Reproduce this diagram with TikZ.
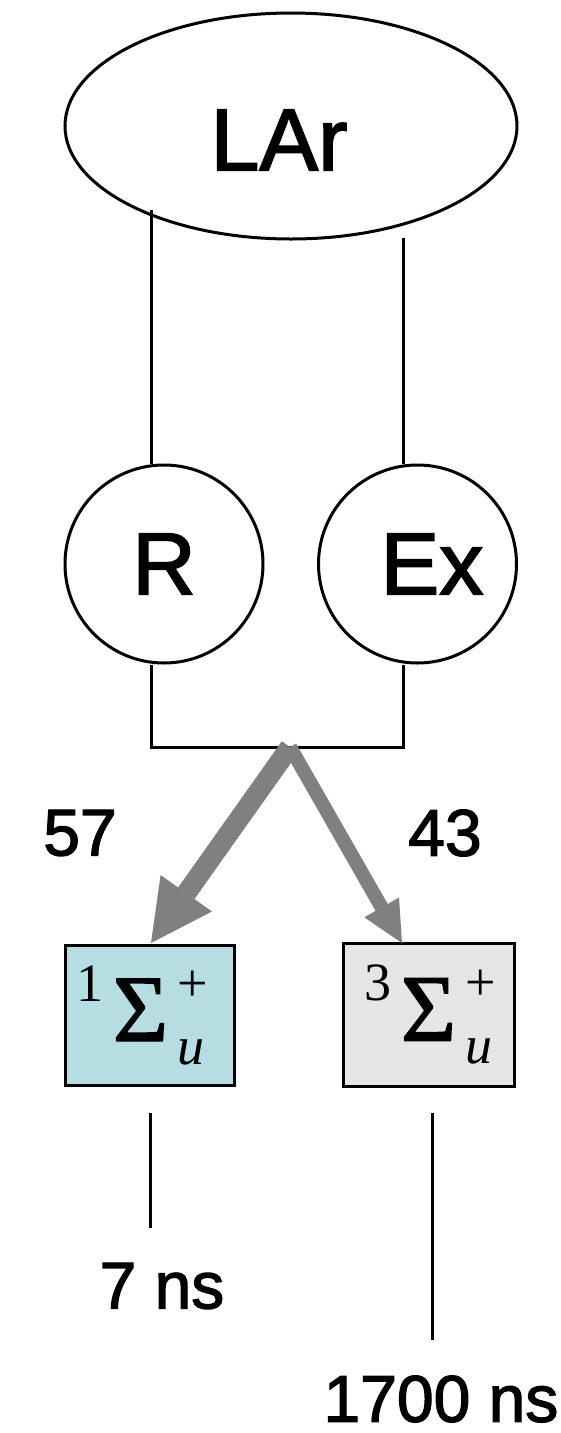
\documentclass[tikz,border=0pt]{standalone}
\usepackage{fontspec}
\setmainfont{Liberation Sans}[FakeBold=2]
\newfontfamily\tms{Liberation Serif}
\newfontfamily\tmsheavy{Liberation Serif}[FakeBold=1.5]
\usepackage{graphicx}
\usetikzlibrary{shapes.geometric,arrows.meta,calc,shadows}
\definecolor{arrowgray}{HTML}{808080}
\definecolor{singblue}{HTML}{B5DDE2}
\definecolor{tripgray}{HTML}{E5E5E5}
\newcommand{\stateterm}[2]{\makebox[0pt][c]{\tms\fontsize{54}{54}\selectfont\raisebox{40pt}{#1}\hspace{9pt}{\tmsheavy\fontsize{95}{95}\selectfont Σ}\hspace{9pt}\rlap{\raisebox{40pt}{+}}\raisebox{-23pt}{\textit{u}}\hspace{27pt}\hspace{#2}}}
\begin{document}
\begin{tikzpicture}[x=1pt,y=-1pt,
  thinline/.style={line width=3pt},
  bigtext/.style={font=\fontsize{88}{88}\selectfont, inner sep=0pt},
  numtext/.style={font=\fontsize{66}{66}\selectfont, inner sep=0pt},
  ringnode/.style={circle, draw, line width=3pt, minimum size=198pt, inner sep=0pt, font=\fontsize{88}{88}\selectfont},
  statebox/.style={rectangle, draw, line width=3pt, inner sep=0pt, drop shadow={shadow xshift=2pt, shadow yshift=-2pt, fill=black, opacity=1}},
  bigarrow/.style={draw=arrowgray, line width=20pt, -{Triangle[length=61pt, width=63pt, line width=0pt, fill=arrowgray]}},
  smallarrow/.style={draw=arrowgray, line width=14pt, -{Triangle[length=41pt, width=40pt, line width=0pt, fill=arrowgray]}}]
\useasboundingbox (0,0) rectangle (560,1433);

% top ellipse
\node[ellipse, draw, line width=3pt, minimum width=452pt, minimum height=226pt, inner sep=0pt] (LAr) at (291,126) {};
\node[bigtext] (LArtext) at (279,140) {LAr};

% circles
\node[ringnode] (R) at (164,564) {R\hspace{11pt}};
\node[ringnode] (Ex) at (417.5,564) {\hspace{29pt}Ex};

% connectors
\coordinate (a1) at (151,210);
\coordinate (a2) at (403,238);
\coordinate (apex) at (290,747);
\draw[thinline] (a1) -- (a1 |- R.north);
\draw[thinline] (a2) -- (a2 |- Ex.north);
\draw[thinline, line join=miter] (R.south -| a1) -- (a1 |- apex) -- (a2 |- apex) -- (Ex.south -| a2);

% boxes
\node[statebox, fill=singblue, minimum width=169pt, minimum height=140pt] (sing) at (149.5,1015) {\stateterm{1}{-9pt}};
\node[statebox, fill=tripgray, minimum width=171pt, minimum height=143pt] (trip) at (428.5,1014.5) {\stateterm{3}{-27pt}};

% arrows
\coordinate (tipS) at (151,943);
\coordinate (tipT) at (402,943);
\draw[bigarrow] (apex) -- (tipS);
\draw[smallarrow] (apex) -- (tipT);

% labels
\node[numtext] (p57) at (80,833) {57};
\node[numtext] (p43) at (445,833) {43};

% decay lines
\coordinate (l1a) at (150,1113);
\coordinate (l1b) at (150,1228);
\coordinate (l2a) at (432,1113);
\coordinate (l2b) at (432,1340);
\draw[thinline] (l1a) -- (l1b);
\draw[thinline] (l2a) -- (l2b);
\node[numtext] (t7) at (162,1286) {7 ns};
\node[numtext] (t1700) at (441,1399) {1700 ns};
\end{tikzpicture}
\end{document}
